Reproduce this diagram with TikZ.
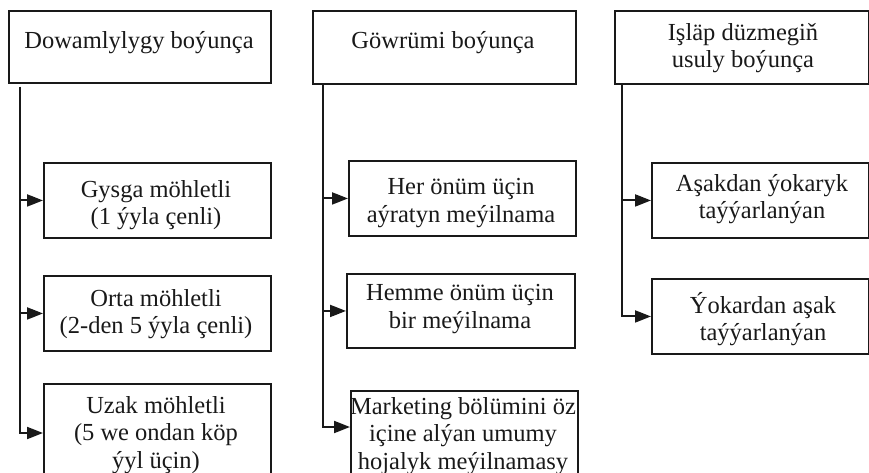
\documentclass[tikz,border=0pt]{standalone}
\usepackage{fontspec}
\setmainfont{Liberation Serif}
\usetikzlibrary{arrows.meta,calc}
\begin{document}
\begin{tikzpicture}[x=1pt,y=-1pt,
  box/.style={draw=black!90, line width=1.9pt, inner sep=0pt, anchor=north west},
  txt/.style={font=\fontsize{24.5}{27.5}\selectfont, align=center, inner sep=0pt, text=black!90},
  conn/.style={draw=black!90, line width=2pt, -{Triangle[length=16pt,width=12pt]}}]
\useasboundingbox (0,0) rectangle (869,473);
\clip (0,0) rectangle (869,473);
% headers
\node[box, minimum width=262pt, minimum height=72pt] (h1) at (8,10) {};
\node[box, minimum width=263pt, minimum height=73pt] (h2) at (312,10) {};
\node[box, minimum width=254pt, minimum height=73pt] (h3) at (614,10) {};
\node[txt] (t1) at (139,43) {Dowamlylygy boýunça};
\node[txt] (t2) at (443,43) {Göwrümi boýunça};
\node[txt] (t3) at (743,48) {Işläp düzmegiň\\usuly boýunça};
% column 1
\node[box, minimum width=227pt, minimum height=75pt] (c11) at (43,162) {};
\node[box, minimum width=227pt, minimum height=75pt] (c12) at (43,275) {};
\node[box, minimum width=227pt, minimum height=110pt] (c13) at (43,383) {};
\node[txt] (t11) at (156,205) {Gysga möhletli\\(1 ýyla çenli)};
\node[txt] (t12) at (156,314) {Orta möhletli\\(2-den 5 ýyla çenli)};
\node[txt] (t13) at (156,435) {Uzak möhletli\\(5 we ondan köp\\ýyl üçin)};
% column 2
\node[box, minimum width=227pt, minimum height=75pt] (c21) at (348,160) {};
\node[box, minimum width=228pt, minimum height=74pt] (c22) at (346,273) {};
\node[box, minimum width=227pt, minimum height=110pt] (c23) at (350,390) {};
\node[txt] (t21) at (461,203) {Her önüm üçin\\aýratyn meýilnama};
\node[txt] (t22) at (460,309) {Hemme önüm üçin\\bir meýilnama};
\node[txt] (t23) at (463,436) {Marketing bölümini öz\\içine alýan umumy\\hojalyk meýilnamasy};
% column 3
\node[box, minimum width=217pt, minimum height=75pt] (c31) at (651,162) {};
\node[box, minimum width=217pt, minimum height=75pt] (c32) at (651,278) {};
\node[txt] (t31) at (762,199) {Aşakdan ýokaryk\\taýýarlanýan};
\node[txt] (t32) at (763,319) {Ýokardan aşak\\taýýarlanýan};
% trunks
\coordinate (s1) at ($(h1.south west)+(12,3)$);
\coordinate (s2) at ($(h2.south west)+(11,0)$);
\coordinate (s3) at ($(h3.south west)+(8,0)$);
\draw[conn] (s1) |- (c11.west);
\draw[conn] (s1) |- (c12.west);
\draw[conn] (s1) |- ($(c13.north west)+(0,50)$);
\draw[conn] (s2) |- (c21.west);
\draw[conn] (s2) |- (c22.west);
\draw[conn] (s2) |- ($(c23.north west)+(0,37)$);
\draw[conn] (s3) |- (c31.west);
\draw[conn] (s3) |- (c32.west);
\end{tikzpicture}
\end{document}
